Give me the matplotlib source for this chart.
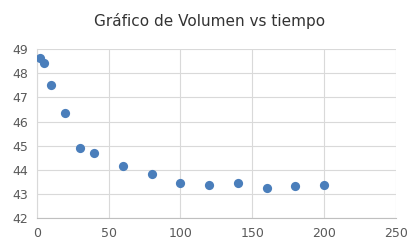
import matplotlib.pyplot as plt

tiempo = [2, 5, 10, 20, 30, 40, 60, 80, 100, 120, 140, 160, 180, 200]
volumen = [48.64, 48.43, 47.51, 46.34, 44.89, 44.71, 44.15, 43.83, 43.47, 43.38, 43.45, 43.24, 43.33, 43.38]

fig = plt.figure(figsize=(4.11, 2.46), dpi=100)
ax = fig.add_axes([0.0893, 0.1126, 0.8742, 0.6882])

ax.scatter(tiempo, volumen, s=44, color='#4a7ebb', zorder=3, linewidths=0)

ax.set_xlim(0, 250)
ax.set_ylim(42, 49)
ax.set_xticks(range(0, 251, 50))
ax.set_yticks(range(42, 50))
ax.grid(True, color='#d9d9d9', linewidth=0.8)
ax.set_axisbelow(True)
for s in ax.spines.values():
    s.set_visible(False)
ax.spines['left'].set_visible(True)
ax.spines['bottom'].set_visible(True)
ax.spines['left'].set_color('#d9d9d9')
ax.spines['bottom'].set_color('#bfbfbf')
ax.tick_params(length=0, labelsize=9, colors='#595959', pad=6)

fig.text(0.511, 0.915, 'Gráfico de Volumen vs tiempo', ha='center', va='center',
         fontsize=11, color='#333333')

fig.savefig('out.png', dpi=100)
